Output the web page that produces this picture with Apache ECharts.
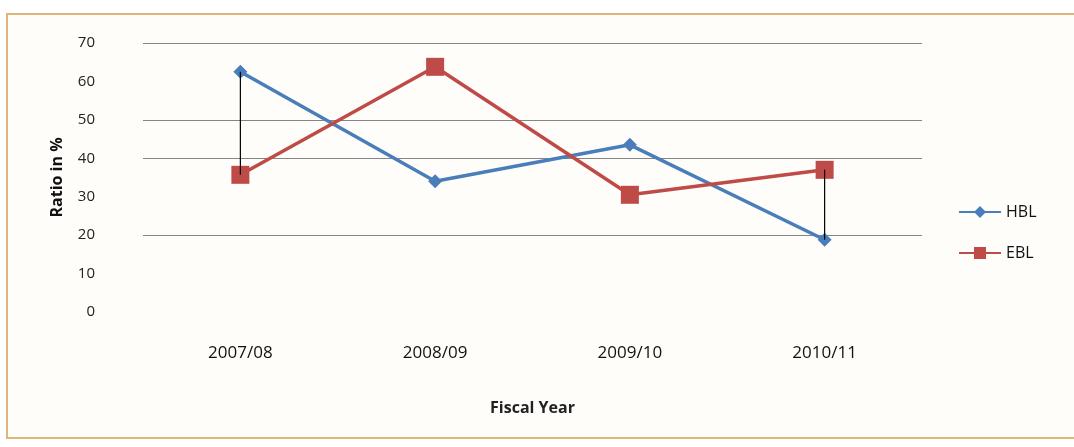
<!DOCTYPE html>
<html>
<head>
<meta charset="utf-8">
<script src="https://cdn.jsdelivr.net/npm/echarts@6/dist/echarts.min.js"></script>
<style>
  html, body { margin: 0; padding: 0; background: #fff; }
  #main { width: 1074px; height: 447px; }
</style>
</head>
<body>
<div id="main"></div>
<script>
var years = ['2007/08', '2008/09', '2009/10', '2010/11'];
var hbl = [62.5, 34, 43.5, 18.8];
var ebl = [35.7, 63.8, 30.5, 37];
var yTicks = [0, 10, 20, 30, 40, 50, 60, 70];
// only these categories show the black high-low line in the picture
var hiLoAt = [0, 3];

var hiLo = hiLoAt.map(function (i) { return [i, hbl[i], ebl[i]]; });

var myChart = echarts.init(document.getElementById('main'));

// gridlines visible in the picture: 20, 40, 50, 70
var gridCols = yTicks.map(function (v) {
    return (v == 20 || v == 40 || v == 50 || v == 70) ? '#858585' : 'rgba(0,0,0,0)';
});

var option = {
    animation: false,
    textStyle: { fontFamily: 'Open Sans' },
    graphic: [{
        type: 'rect',
        shape: { x: 7, y: 14, width: 1080, height: 424 },
        style: { fill: '#fffdf9', stroke: '#dfb57c', lineWidth: 2 },
        z: -10
    }],
    grid: { left: 143, right: 152, top: 43, bottom: 135 },
    legend: {
        data: ['HBL', 'EBL'],
        orient: 'vertical',
        left: 953,
        top: 199,
        itemWidth: 42,
        itemHeight: 15,
        itemGap: 25,
        textStyle: { fontSize: 16, color: '#111' }
    },
    xAxis: {
        type: 'category',
        data: years,
        boundaryGap: true,
        axisLine: { show: false },
        axisTick: { show: false },
        axisLabel: { fontSize: 17, color: '#111', margin: 33 },
        name: 'Fiscal Year',
        nameLocation: 'middle',
        nameGap: 88,
        nameTextStyle: { fontSize: 16, fontWeight: 'bold', color: '#222' }
    },
    yAxis: {
        type: 'value',
        min: 0,
        max: 70,
        interval: 10,
        axisLine: { show: false },
        axisTick: { show: false },
        axisLabel: { fontSize: 15, color: '#222', margin: 48 },
        splitLine: { show: true, lineStyle: { color: gridCols, width: 1.2 } },
        name: 'Ratio in %',
        nameLocation: 'middle',
        nameGap: 78,
        nameTextStyle: { fontSize: 16, fontWeight: 'bold', color: '#111' }
    },
    series: [
        {
            name: 'HBL',
            type: 'line',
            data: hbl,
            symbol: 'diamond',
            symbolSize: 14,
            lineStyle: { color: '#4a7ebb', width: 3.5 },
            itemStyle: { color: '#4a7ebb' }
        },
        {
            name: 'EBL',
            type: 'line',
            data: ebl,
            symbol: 'rect',
            symbolSize: 18,
            lineStyle: { color: '#be4b48', width: 3.5 },
            itemStyle: { color: '#be4b48' }
        },
        {
            name: 'hilo',
            type: 'custom',
            z: 5,
            data: hiLo,
            renderItem: function (params, api) {
                var a = api.coord([api.value(0), api.value(1)]);
                var b = api.coord([api.value(0), api.value(2)]);
                return {
                    type: 'line',
                    shape: { x1: a[0], y1: a[1], x2: b[0], y2: b[1] },
                    style: { stroke: '#000', lineWidth: 1.2 }
                };
            }
        }
    ]
};

myChart.setOption(option);
</script>
</body>
</html>
